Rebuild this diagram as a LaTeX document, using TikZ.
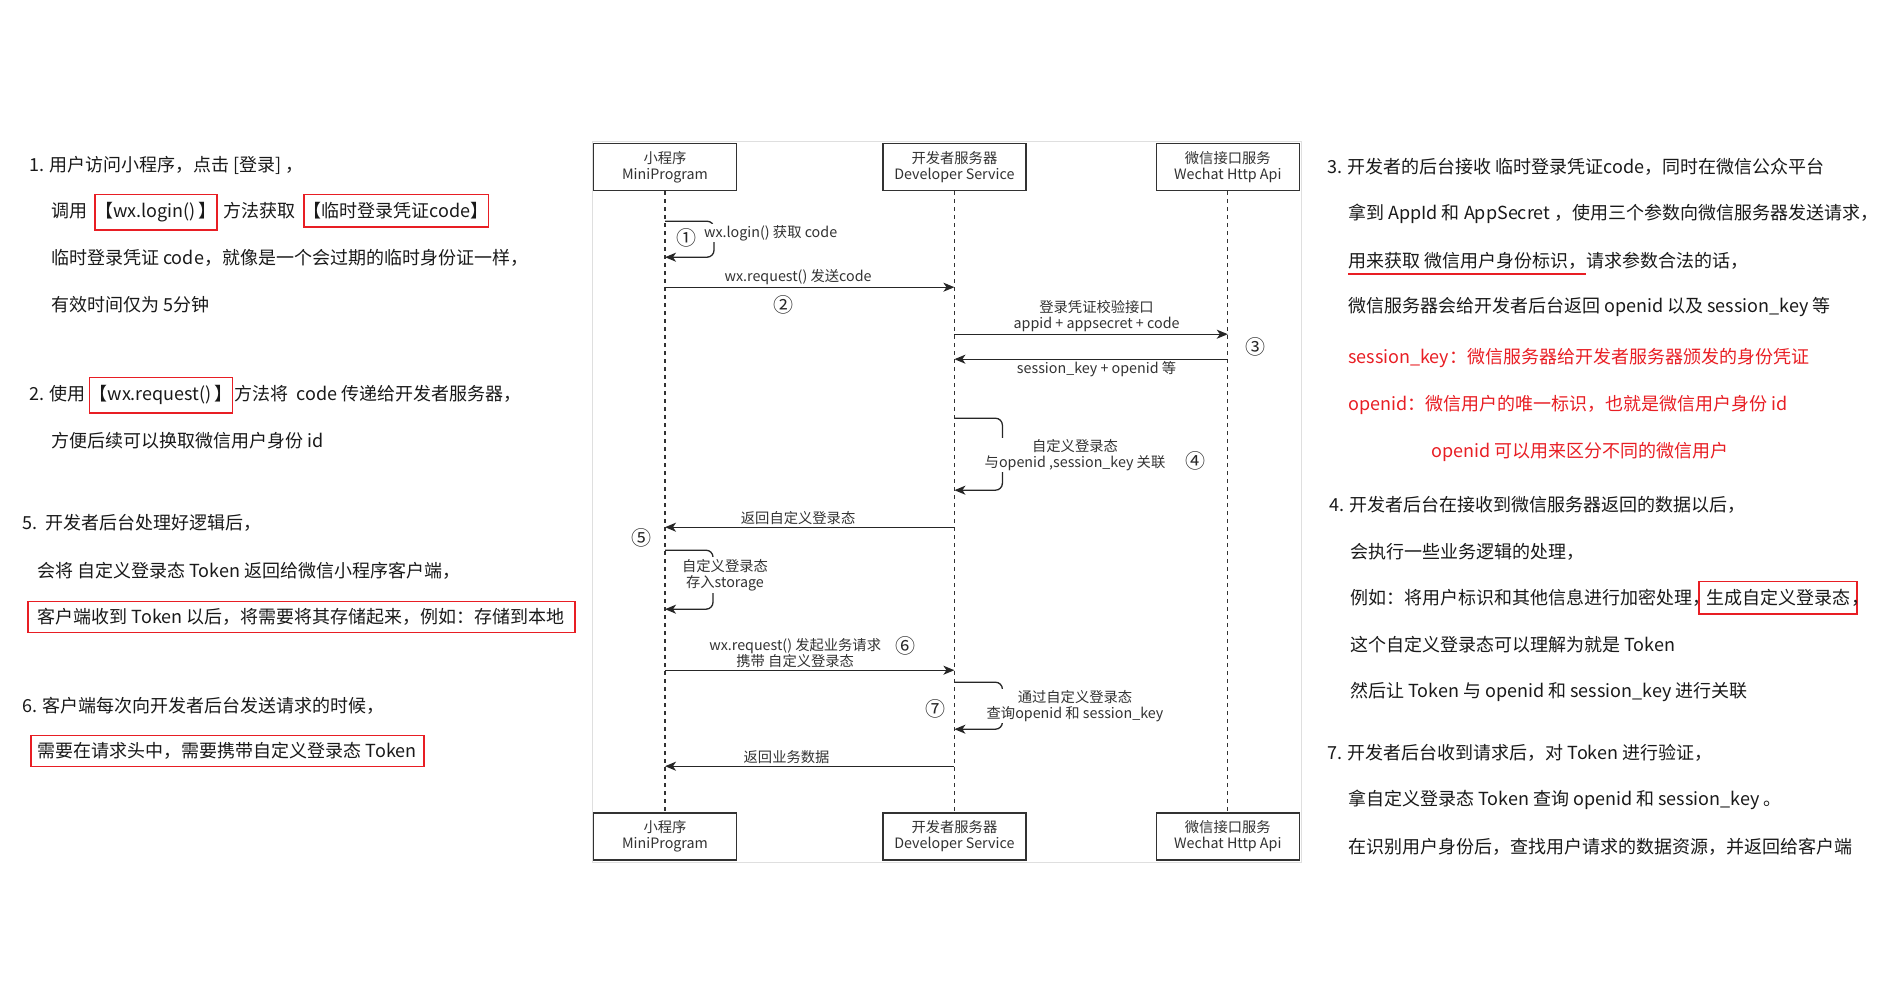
\documentclass[tikz,border=0pt]{standalone}
\usepackage{fontspec}
\setmainfont{Noto Sans CJK SC}
\usetikzlibrary{arrows.meta,positioning}

\definecolor{hlred}{RGB}{232,30,36}
\definecolor{inkgray}{RGB}{50,50,50}

\begin{document}
\begin{tikzpicture}[
  x=1pt, y=-1pt,
  >={Stealth[length=11pt,width=9pt,inset=3pt]},
  txt/.style={anchor=west, inner sep=0pt, font=\fontsize{18}{22}\selectfont, text=black!90},
  redtxt/.style={txt, text=hlred},
  redbox/.style={draw=hlred, line width=1.6pt, inner xsep=0pt, inner ysep=8pt,
                 font=\fontsize{18}{22}\selectfont, text=black!90},
  actor/.style={draw=inkgray, fill=white, line width=1.4pt, align=center,
                minimum width=143pt, minimum height=47pt,
                font=\fontsize{14.3}{16}\selectfont, text=inkgray},
  life/.style={draw=inkgray, line width=1.2pt, dash pattern=on 4pt off 4pt},
  msg/.style={->, line width=1.3pt, draw=black!85},
  lbl/.style={font=\fontsize{14.3}{16.5}\selectfont, text=inkgray, align=center, inner sep=1.5pt},
  num/.style={font=\fontsize{20}{20}\selectfont, text=black!85},
]
\useasboundingbox (0,0) rectangle (1903,1008);

% sequence diagram
\draw[gray!25, line width=1pt] (592,142) rectangle (1301,862);

\node[actor] (mp) at (665,167) {小程序\\MiniProgram};
\node[actor, right=145pt of mp] (dev) {开发者服务器\\Developer Service};
\node[actor, right=129pt of dev] (wx) {微信接口服务\\Wechat Http Api};
\node[actor, below=621pt of mp] (mpB) {小程序\\MiniProgram};
\node[actor, below=621pt of dev] (devB) {开发者服务器\\Developer Service};
\node[actor, below=621pt of wx] (wxB) {微信接口服务\\Wechat Http Api};

\draw[life] (mp) -- (mpB);
\draw[life] (dev) -- (devB);
\draw[life] (wx) -- (wxB);

% 1 - 2
\draw[msg, rounded corners=7pt] ([yshift=-30pt]mp.south) -- ++(49,0) -- ++(0,36) -- ([yshift=-66pt]mp.south);
\node[lbl, fill=white, anchor=west, inner sep=1pt] (t1) at (703,233) {wx.login() 获取 code};
\node[num] (n1) at (686,238) {①};

\draw[msg] ([yshift=-96pt]mp.south) -- node[lbl, above, pos=.46] (t2) {wx.request() 发送code} ([yshift=-96pt]dev.south);
\node[num] (n2) at (783,305) {②};

% 3
\draw[msg] ([yshift=-143pt]dev.south) -- node[lbl, above, pos=.52] (t3) {登录凭证校验接口\\appid + appsecret + code} ([yshift=-143pt]wx.south);
\draw[msg] ([yshift=-168pt]wx.south) -- node[lbl, below, pos=.48] (t4) {session\_key + openid 等} ([yshift=-168pt]dev.south);
\node[num] (n3) at (1255,347) {③};

% 4
\draw[msg, rounded corners=7pt] ([yshift=-227pt]dev.south) -- ++(48,0) -- ++(0,72) -- ([yshift=-299pt]dev.south);
\node[lbl, fill=white] (t5) at (1075,455) {自定义登录态\\与openid ,session\_key 关联};
\node[num] (n4) at (1195,461) {④};

% 5
\draw[msg] ([yshift=-336pt]dev.south) -- node[lbl, above, pos=.54] (t6) {返回自定义登录态} ([yshift=-336pt]mp.south);
\node[num] (n5) at (641,538) {⑤};
\draw[msg, rounded corners=7pt] ([yshift=-359pt]mp.south) -- ++(48,0) -- ++(0,59) -- ([yshift=-418pt]mp.south);
\node[lbl, fill=white] (t7) at (725,575) {自定义登录态\\存入storage};

% 6 - 7
\draw[msg] ([yshift=-479pt]mp.south) -- node[lbl, above, pos=.45] (t8) {wx.request() 发起业务请求\\携带 自定义登录态} ([yshift=-479pt]dev.south);
\node[num] (n6) at (905,646) {⑥};
\draw[msg, rounded corners=7pt] ([yshift=-491pt]dev.south) -- ++(48,0) -- ++(0,47) -- ([yshift=-538pt]dev.south);
\node[lbl, fill=white] (t9) at (1075,706) {通过自定义登录态\\查询openid 和 session\_key};
\node[num] (n7) at (935,709) {⑦};
\draw[msg] ([yshift=-575pt]dev.south) -- node[lbl, above, pos=.58] (t10) {返回业务数据} ([yshift=-575pt]mp.south);

% left notes
\node[txt] (l1) at (29,165) {1. 用户访问小程序，点击 [登录] ，};
\node[txt] (l2a) at (51,211) {调用};
\node[redbox, base right=7pt of l2a] (l2b) {【wx.login()\,】};
\node[txt, base right=6pt of l2b] (l2c) {方法获取};
\node[redbox, base right=7pt of l2c] (l2d) {【临时登录凭证code】};
\node[txt] (l3) at (51,258) {临时登录凭证 code，就像是一个会过期的临时身份证一样，};
\node[txt] (l4) at (51,305) {有效时间仅为 5分钟};

\node[txt] (l5a) at (29,394) {2. 使用};
\node[redbox, base right=3pt of l5a] (l5b) {【wx.request()\,】};
\node[txt, base right=1pt of l5b] (l5c) {方法将~~code 传递给开发者服务器，};
\node[txt] (l6) at (51,441) {方便后续可以换取微信用户身份 id};

\node[txt] (l7) at (22,523) {5.~~开发者后台处理好逻辑后，};
\node[txt] (l8) at (37,571) {会将 自定义登录态 Token 返回给微信小程序客户端，};
\node[redbox, anchor=west, inner xsep=10pt, inner ysep=7pt] (l9) at (27,617) {客户端收到 Token 以后，将需要将其存储起来，例如：存储到本地};

\node[txt] (l10) at (22,706) {6. 客户端每次向开发者后台发送请求的时候，};
\node[redbox, anchor=west, inner xsep=7pt, inner ysep=7pt] (l11) at (30,751) {需要在请求头中，需要携带自定义登录态 Token};

% right notes
\node[txt] (r1) at (1327,167) {3. 开发者的后台接收 临时登录凭证code，同时在微信公众平台};
\node[txt] (r2) at (1348,214) {拿到 AppId 和 AppSecret ，使用三个参数向微信服务器发送请求，};
\node[txt] (r3a) at (1348,261) {用来获取 微信用户身份标识，};
\node[txt, base right=0pt of r3a] (r3b) {请求参数合法的话，};
\draw[hlred, line width=1.8pt] ([yshift=-4pt]r3a.south west) -- ([yshift=-4pt]r3a.south east);
\node[txt] (r4) at (1348,307) {微信服务器会给开发者后台返回 openid 以及 session\_key 等};
\node[redtxt] (r5) at (1348,358) {session\_key：微信服务器给开发者服务器颁发的身份凭证};
\node[redtxt] (r6) at (1348,405) {openid：微信用户的唯一标识，也就是微信用户身份 id};
\node[redtxt] (r7) at (1431,452) {openid 可以用来区分不同的微信用户};

\node[txt] (r8) at (1329,505) {4. 开发者后台在接收到微信服务器返回的数据以后，};
\node[txt] (r9) at (1350,552) {会执行一些业务逻辑的处理，};
\node[txt] (r10a) at (1350,598) {例如：将用户标识和其他信息进行加密处理，};
\node[redbox, base right=-12pt of r10a, inner xsep=7pt] (r10b) {生成自定义登录态};
\node[txt, base right=-7pt of r10b] (r10c) {，};
\node[txt] (r11) at (1350,645) {这个自定义登录态可以理解为就是 Token};
\node[txt] (r12) at (1350,692) {然后让 Token 与 openid 和 session\_key 进行关联};

\node[txt] (r13) at (1327,753) {7. 开发者后台收到请求后，对 Token 进行验证，};
\node[txt] (r14) at (1348,800) {拿自定义登录态 Token 查询 openid 和 session\_key 。};
\node[txt] (r15) at (1348,847) {在识别用户身份后，查找用户请求的数据资源，并返回给客户端};
\end{tikzpicture}
\end{document}
